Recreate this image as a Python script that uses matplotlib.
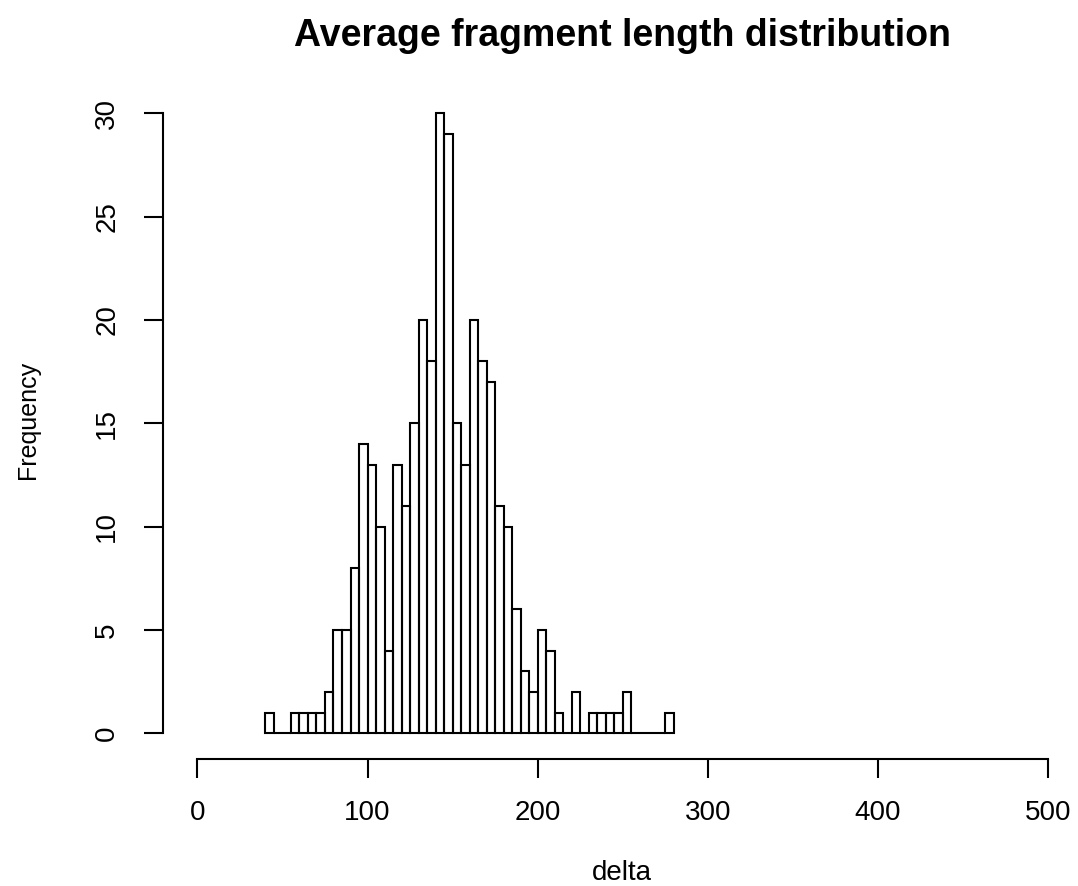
import numpy as np
import matplotlib
matplotlib.use("Agg")
from matplotlib import pyplot as plt

# histogram counts, bins of width 5 starting at 40
bin_width = 5
bin_start = 40
counts = [1, 0, 0, 1, 1, 1, 1, 2, 5, 5,
          8, 14, 13, 10, 4, 13, 11, 15, 20, 18,
          30, 29, 15, 13, 20, 18, 17, 11, 10, 6,
          3, 2, 5, 4, 1, 0, 2, 0, 1, 1,
          1, 1, 2, 0, 0, 0, 0, 1]
bin_lefts = bin_start + bin_width * np.arange(len(counts))
x_ticks = [0, 100, 200, 300, 400, 500]
y_ticks = [0, 5, 10, 15, 20, 25, 30]

plt.rcParams['font.family'] = ['Liberation Sans', 'DejaVu Sans']

W, H = 1078, 886
fig = plt.figure(figsize=(W / 100, H / 100), dpi=100)

# plot region in pixels (R-style 4% padding around data range)
left_px, right_px = 163.3, 1082.3
top_px, bottom_px = 87.4, 759.3
ax = fig.add_axes([left_px / W, (H - bottom_px) / H,
                   (right_px - left_px) / W, (bottom_px - top_px) / H])

ax.bar(bin_lefts, counts, width=bin_width, align='edge', fill=False,
       edgecolor='black', linewidth=1.5)

ax.set_xlim(-20, 520)
ax.set_ylim(-1.25, 31.25)

for s in ['top', 'right']:
    ax.spines[s].set_visible(False)
ax.spines['left'].set_bounds(0, 30)
ax.spines['bottom'].set_bounds(0, 500)
ax.spines['left'].set_linewidth(1.5)
ax.spines['bottom'].set_linewidth(1.5)

ax.set_xticks(x_ticks)
ax.set_yticks(y_ticks)
ax.set_yticklabels([str(v) for v in y_ticks], rotation=90, va='center')
ax.tick_params(axis='both', length=14, width=1.5)
ax.tick_params(axis='y', labelsize=20, pad=17)
ax.tick_params(axis='x', labelsize=20, pad=15)

fig.text(622 / W, 1 - 46 / H, "Average fragment length distribution",
         ha='center', va='baseline', fontsize=27, fontweight='bold')
fig.text(622 / W, 1 - 880 / H, "delta", ha='center', va='baseline', fontsize=20)
fig.text(28 / W, 1 - 420 / H, "Frequency", ha='center', va='center',
         fontsize=18, rotation=90)

fig.savefig("out.png", dpi=100)
